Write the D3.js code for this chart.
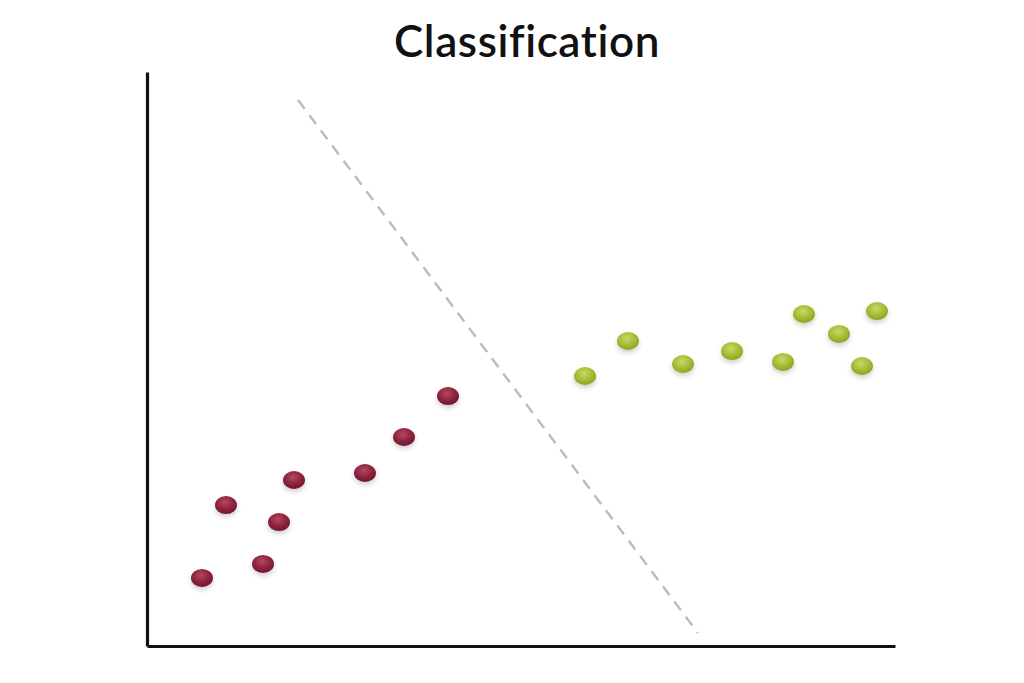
<!DOCTYPE html>
<html>
<head>
<meta charset="utf-8">
<script src="https://cdn.jsdelivr.net/npm/d3@7"></script>
<style>
  body { margin: 0; background: #fff; }
  svg { display: block; }
</style>
</head>
<body>
<svg id="chart"></svg>
<script>
// class A (red) points
const redX = [7.35, 10.56, 15.51, 17.65, 19.65, 29.14, 34.36, 40.24];
const redY = [11.85, 24.56, 14.29, 21.60, 28.92, 30.14, 36.41, 43.55];
// class B (green) points
const greenX = [58.56, 64.30, 71.66, 78.21, 85.03, 87.83, 92.51, 95.59, 97.59];
const greenY = [47.04, 53.14, 49.13, 51.39, 49.48, 57.84, 54.36, 48.78, 58.36];
// decision boundary endpoints
const boundaryX = [20.19, 73.66];
const boundaryY = [95.12, 2.26];

const width = 1024, height = 683;
const marginLeft = 147, marginRight = 129, marginTop = 72, marginBottom = 37;

const svg = d3.select("#chart")
    .attr("width", width)
    .attr("height", height)
    .attr("viewBox", [0, 0, width, height]);

const x = d3.scaleLinear().domain([0, 100]).range([marginLeft, width - marginRight]);
const y = d3.scaleLinear().domain([0, 100]).range([height - marginBottom, marginTop]);

const defs = svg.append("defs");
const grad = (id, hi, mid, lo) => {
  const g = defs.append("radialGradient").attr("id", id)
      .attr("cx", "45%").attr("cy", "35%").attr("r", "65%");
  g.append("stop").attr("offset", "0%").attr("stop-color", hi);
  g.append("stop").attr("offset", "55%").attr("stop-color", mid);
  g.append("stop").attr("offset", "100%").attr("stop-color", lo);
};
grad("redGrad", "#b04a5f", "#922441", "#72162e");
grad("greenGrad", "#c7d86a", "#a6bf36", "#8ba424");

const shadow = defs.append("filter").attr("id", "shadow")
    .attr("x", "-50%").attr("y", "-50%").attr("width", "200%").attr("height", "220%");
shadow.append("feDropShadow").attr("dx", 0).attr("dy", 3).attr("stdDeviation", 2.5)
    .attr("flood-color", "#000").attr("flood-opacity", 0.18);

svg.append("text")
    .attr("x", 527)
    .attr("y", 57)
    .attr("text-anchor", "middle")
    .attr("font-family", "Lato, sans-serif")
    .attr("font-weight", 600)
    .attr("font-size", 44)
    .attr("letter-spacing", 0.6)
    .style("font-variant-ligatures", "none")
    .attr("fill", "#111")
    .text("Classification");

// axes: ticks removed, only the lines
svg.append("g")
    .attr("transform", `translate(${marginLeft},0)`)
    .call(d3.axisLeft(y).ticks(0).tickSizeOuter(0))
    .call(g => g.select(".domain").attr("stroke", "#111").attr("stroke-width", 3.2));

svg.append("g")
    .attr("transform", `translate(0,${height - marginBottom})`)
    .call(d3.axisBottom(x).ticks(0).tickSizeOuter(0))
    .call(g => g.select(".domain").attr("stroke", "#111").attr("stroke-width", 3.2));

svg.append("line")
    .attr("x1", x(boundaryX[0])).attr("y1", y(boundaryY[0]))
    .attr("x2", x(boundaryX[1])).attr("y2", y(boundaryY[1]))
    .attr("stroke", "#bdbdbd")
    .attr("stroke-width", 2.5)
    .attr("stroke-dasharray", "11 8");

const dots = (xs, ys, fill) => svg.append("g")
  .selectAll("ellipse")
  .data(d3.range(xs.length))
  .join("ellipse")
    .attr("cx", i => x(xs[i]))
    .attr("cy", i => y(ys[i]))
    .attr("rx", 11)
    .attr("ry", 9)
    .attr("fill", fill)
    .attr("filter", "url(#shadow)");

dots(redX, redY, "url(#redGrad)");
dots(greenX, greenY, "url(#greenGrad)");
</script>
</body>
</html>
